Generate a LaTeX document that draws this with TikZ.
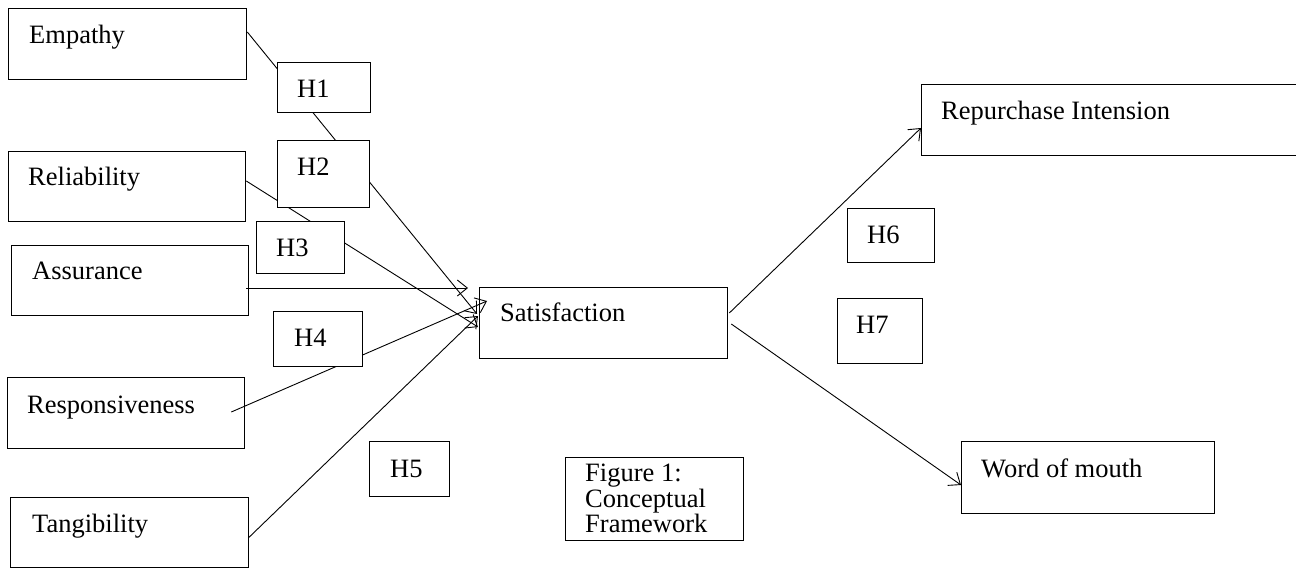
\documentclass[tikz,border=0pt]{standalone}
\usepackage{fontspec}
\setmainfont{Liberation Serif}
\usetikzlibrary{arrows.meta,calc}
\begin{document}
\begin{tikzpicture}[x=1pt,y=-1pt,
  box/.style={draw, line width=1.3pt, fill=white, inner sep=0pt, anchor=north west},
  lbl/.style={anchor=base west, inner sep=0pt, font=\fontsize{26.5}{27}\selectfont},
  conn/.style={line width=0.9pt},
  arr/.style={conn, -{Straight Barb[length=10pt,width=16pt,line width=0.9pt]}}]
\useasboundingbox (0,0) rectangle (1296,569);
% factor boxes
\node[box, minimum width=238pt, minimum height=71pt] (emp) at (8,8) {};
\node[box, minimum width=237pt, minimum height=70pt] (rel) at (8,151) {};
\node[box, minimum width=237pt, minimum height=70pt] (ass) at (11,245) {};
\node[box, minimum width=237pt, minimum height=71pt] (res) at (7,377) {};
\node[box, minimum width=238pt, minimum height=70pt] (tan) at (10,497) {};
\node[box, minimum width=248pt, minimum height=71pt] (sat) at (479,287) {};
\node[box, minimum width=376pt, minimum height=71pt] (rep) at (921,84) {};
\node[box, minimum width=253pt, minimum height=72pt] (wom) at (961,441) {};
\node[box, minimum width=178pt, minimum height=83pt] (fig) at (565,457) {};
% labels
\node[lbl] (emp-t) at (29,44) {Empathy};
\node[lbl] (rel-t) at (28,186) {Reliability};
\node[lbl] (ass-t) at (32,280) {Assurance};
\node[lbl] (res-t) at (27,413) {Responsiveness};
\node[lbl] (tan-t) at (32,532) {Tangibility};
\node[lbl] (sat-t) at (500,322) {Satisfaction};
\node[lbl] (rep-t) at (941,120) {Repurchase Intension};
\node[lbl] (wom-t) at (981,477) {Word of mouth};
\node[anchor=north west, inner sep=0pt, align=left, font=\fontsize{26.5}{25.5}\selectfont] (fig-t) at (585,464) {Figure 1:\\Conceptual\\Framework};
% arrow ends
\coordinate (tEmp) at (477,314);
\coordinate (tRel) at (478,327);
\coordinate (tAss) at (468,288);
\coordinate (tRes) at (487,301);
\coordinate (tTan) at (478,316);
% connectors
\draw[arr] ([yshift=-24pt]emp.north east) -- (tEmp);
\draw[arr] ([yshift=-30pt]rel.north east) -- (tRel);
\draw[arr] ([xshift=-3pt,yshift=-43pt]ass.north east) -- (tAss);
\draw[arr] ([xshift=-14pt,yshift=-35pt]res.north east) -- (tRes);
\draw[arr] ([xshift=-1pt,yshift=-41pt]tan.north east) -- (tTan);
\draw[arr] ([xshift=1pt,yshift=-26pt]sat.north east) -- ([yshift=-44pt]rep.north west);
\draw[arr] ([xshift=3pt,yshift=-37pt]sat.north east) -- ([yshift=-44pt]wom.north west);
% hypothesis boxes
\node[box, minimum width=93pt, minimum height=50pt] (h1) at (277,62) {};
\node[box, minimum width=92pt, minimum height=67pt] (h2) at (277,140) {};
\node[box, minimum width=88pt, minimum height=52pt] (h3) at (256,221) {};
\node[box, minimum width=89pt, minimum height=55pt] (h4) at (273,311) {};
\node[box, minimum width=80pt, minimum height=55pt] (h5) at (369,441) {};
\node[box, minimum width=87pt, minimum height=54pt] (h6) at (847,208) {};
\node[box, minimum width=85pt, minimum height=65pt] (h7) at (837,298) {};
\node[lbl] (h1-t) at (297,98) {H1};
\node[lbl] (h2-t) at (297,176) {H2};
\node[lbl] (h3-t) at (276,257) {H3};
\node[lbl] (h4-t) at (294,347) {H4};
\node[lbl] (h5-t) at (390,477) {H5};
\node[lbl] (h6-t) at (867,244) {H6};
\node[lbl] (h7-t) at (856,334) {H7};
\end{tikzpicture}
\end{document}
